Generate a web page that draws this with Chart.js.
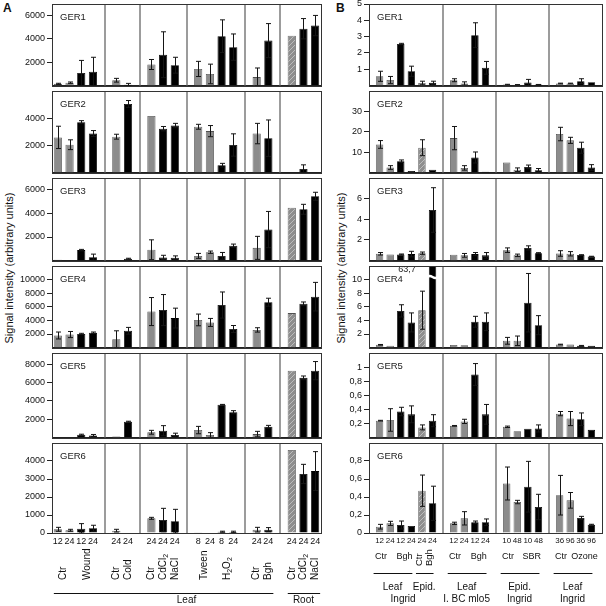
<!DOCTYPE html>
<html>
<head>
<meta charset="utf-8">
<title>GER expression</title>
<script src="https://cdn.jsdelivr.net/npm/chart.js@4.4.1/dist/chart.umd.min.js"></script>
<style>
  body { margin: 0; background: #fff; }
  #wrap { position: relative; width: 606px; height: 606px; overflow: hidden; font-family: "Liberation Sans", Arial, sans-serif; color: #111; }
  #wrap canvas { position: absolute; }
  .panel { position: absolute; font-weight: bold; font-size: 12px; }
  .ytitle { position: absolute; font-size: 11px; white-space: nowrap; transform: translate(-50%, -50%) rotate(-90deg); }
</style>
</head>
<body>
<div id="wrap">
  <div class="panel" style="left:3px;top:1px">A</div>
  <div class="panel" style="left:336px;top:1px">B</div>
  <div class="ytitle" style="left:9px;top:268px">Signal intensity (arbitrary units)</div>
  <div class="ytitle" style="left:341px;top:268px">Signal intensity (arbitrary units)</div>
</div>
<script>
const FONT = '"Liberation Sans", Arial, sans-serif';
const gerNames = ['GER1', 'GER2', 'GER3', 'GER4', 'GER5', 'GER6'];

// ---- panel A: hours per bar, '' marks the gap between treatment blocks
const labelsA = ['12','24','12','24','', '24','24','', '24','24','24','', '8','24','8','24','', '24','24','', '24','24','24'];
// c = control (grey), t = treatment (black), h = hatched control
const kindsA = ['c','c','t','t',null, 'c','t',null, 'c','t','t',null, 'c','c','t','t',null, 'c','t',null, 'h','t','t'];
const ticksA = [[2000,4000,6000], [2000,4000], [2000,4000,6000], [2000,4000,6000,8000,10000], [2000,4000,6000,8000], [0,1000,2000,3000,4000]];
const maxA = [7000, 6000, 7000, 12000, 9200, 5000];

const ger1A = [150,250,1080,1190,null, 460,80,null, 1810,2650,1750,null, 1430,1000,4240,3300,null, 730,3860,null, 4270,4880,5150];
const ger1Aerr = [50,60,1080,1240,null, 160,110,null, 430,1965,680,null, 650,840,1400,1130,null, 780,1460,null, 0,870,870];
const ger2A = [2590,2050,3710,2870,null, 2640,5050,null, 4160,3230,3460,null, 3370,3050,546,2030,null, 2870,2530,null, 0,270,0];
const ger2Aerr = [820,360,110,220,null, 180,250,null, 0,160,160,null, 180,410,134,820,null, 750,1340,null, 0,300,0];
const ger3A = [80,0,890,290,null, 40,160,null, 920,260,240,null, 400,710,400,1265,null, 1080,2630,null, 4480,4350,5450];
const ger3Aerr = [0,0,60,260,null, 0,40,null, 840,190,160,null, 210,100,290,135,null, 975,1535,null, 0,420,340];
const ger4A = [1780,1920,2010,2190,null, 1230,2470,null, 5300,5520,4340,null, 4070,3700,6260,2740,null, 2600,6670,null, 5070,6440,7490];
const ger4Aerr = [510,450,90,100,null, 1240,500,null, 2060,2280,1460,null, 860,590,1920,510,null, 320,590,null, 0,270,2100];
const ger5A = [20,20,310,230,null, 130,1730,null, 580,750,280,null, 820,280,3570,2760,null, 380,1190,null, 7280,6500,7280];
const ger5Aerr = [0,0,60,110,null, 0,50,null, 210,550,200,null, 400,260,40,170,null, 300,140,null, 0,200,990];
const ger6A = [205,150,240,260,null, 130,0,null, 815,720,650,null, 20,0,70,60,null, 185,185,null, 4610,3280,3440];
const ger6Aerr = [110,55,280,170,null, 75,0,null, 55,650,665,null, 0,0,30,40,null, 130,115,null, 0,535,1080];

// rotated treatment names under panel A: [text, first bar, last bar]
const rotA = [['Ctr',0,1], ['Wound',2,3], ['Ctr',5], ['Cold',6], ['Ctr',8], ['CdCl_2',9], ['NaCl',10],
              ['Tween',12,13], ['H_2O_2',14,15], ['Ctr',17], ['Bgh',18], ['Ctr',20], ['CdCl_2',21], ['NaCl',22]];
// tissue brackets: [text, first bar, last bar, text anchor]
const tissueA = [['Leaf',0,18,11], ['Root',20,22,21]];

// ---- panel B
const labelsB = ['', '12','24','12','24','24','24','', '12','24','12','24','', '10','48','10','48','', '36','96','36','96',''];
const kindsB = [null, 'c','c','t','t','h','t',null, 'c','c','t','t',null, 'c','c','t','t',null, 'c','c','t','t',null];
const ticksB = [[1,2,3,4,5], [10,20,30], [2,4,6], [2,4,6,8,10], [0.2,0.4,0.6,0.8,1], [0,0.2,0.4,0.6,0.8]];
const maxB = [5, 40, 8, 12, 1.2, 1.0];

const ger1B = [null, 0.57,0.34,2.55,0.88,0.16,0.17,null, 0.33,0.13,3.09,1.09,null, 0.06,0.05,0.19,0.06,null, 0.13,0.13,0.27,0.21,null];
const ger1Berr = [null, 0.31,0.22,0.04,0.31,0.11,0.1,null, 0.09,0.1,0.76,0.39,null, 0.02,0.01,0.19,0.01,null, 0.02,0.02,0.15,0,null];
const ger2B = [null, 13.8,2.5,5.6,0.8,12.2,1.4,null, 16.9,2.3,7.4,0.4,null, 5.0,1.4,2.8,1.2,null, 18.9,15.8,12.2,2.5,null];
const ger2Berr = [null, 1.9,0.9,0.6,0,3.9,0,null, 5.7,1.1,2.7,0,null, 0,0.9,0.9,0.8,null, 3.3,1.5,2.7,1.4,null];
const ger3B = [null, 0.66,0.6,0.6,0.63,0.72,4.9,null, 0.57,0.51,0.63,0.51,null, 1.01,0.51,1.23,0.72,null, 0.69,0.66,0.54,0.39,null];
const ger3Berr = [null, 0.12,0,0.04,0.27,0.11,2.16,null, 0,0.18,0.15,0.27,null, 0.22,0.12,0.2,0.05,null, 0.27,0.21,0.03,0.03,null];
const ger4B = [null, 0.41,0.27,5.4,3.7,5.5,63.7,null, 0.4,0.35,3.8,3.8,null, 1.0,1.0,6.6,3.3,null, 0.45,0.45,0.27,0.27,null];
const ger4Berr = [null, 0.05,0,0.9,1.4,2.8,0,null, 0,0,0.8,1.3,null, 0.5,0.7,4.3,1.4,null, 0.05,0,0.05,0,null];
const ger5B = [null, 0.24,0.25,0.37,0.33,0.145,0.24,null, 0.167,0.23,0.895,0.33,null, 0.153,0.09,0.126,0.13,null, 0.34,0.27,0.26,0.11,null];
const ger5Berr = [null, 0.005,0.16,0.06,0.12,0.035,0.085,null, 0.005,0.03,0.155,0.14,null, 0.01,0,0,0.05,null, 0.03,0.1,0.09,0,null];
const ger6B = [null, 0.07,0.107,0.089,0.078,0.47,0.33,null, 0.107,0.163,0.119,0.119,null, 0.55,0.344,0.514,0.289,null, 0.42,0.363,0.167,0.092,null];
const ger6Berr = [null, 0.026,0.023,0.044,0,0.174,0.19,null, 0.013,0.074,0.014,0.037,null, 0.183,0.019,0.282,0.141,null, 0.22,0.087,0.018,0.005,null];

// broken bar in panel B, GER4
const breakB = { row: 3, index: 6, label: '63,7' };

const flatB = [['Ctr',1,2], ['Bgh',3,4], ['Ctr',8,9], ['Bgh',10,11], ['Ctr',13,14], ['SBR',15,16], ['Ctr',18,19], ['Ozone',20,21]];
const rotB = [['Ctr',5], ['Bgh',6]];
const bracketB = [[1,4], [5,6], [8,11], [13,16], [18,21]];
const tissueB = [['Leaf',1,4], ['Epid.',5,6], ['Leaf',8,11], ['Epid.',13,16], ['Leaf',18,21]];
const sourceB = [['Ingrid',1,6], ['I. BC mlo5',8,11], ['Ingrid',13,16], ['Ingrid',18,21]];

// ---- layout
const rowTops = [4, 91, 178, 266, 353, 443];
const rowBottoms = [91, 178, 266, 353, 443, 533];

const hatch = (function () {
  const pc = document.createElement('canvas');
  pc.width = 5; pc.height = 5;
  const g = pc.getContext('2d');
  g.fillStyle = '#8e8e8e'; g.fillRect(0, 0, 5, 5);
  g.strokeStyle = '#bdbdbd'; g.lineWidth = 1;
  g.beginPath(); g.moveTo(-1, 6); g.lineTo(6, -1); g.stroke();
  return g.createPattern(pc, 'repeat');
})();

function fmt(v) { return String(v).replace('.', ','); }

function subText(ctx, txt, x, y, size, align) {
  const parts = txt.split(/_(\d)/);
  const widths = parts.map((s, i) => {
    ctx.font = (i % 2 ? size * 0.7 : size) + 'px ' + FONT;
    return ctx.measureText(s).width;
  });
  const total = widths.reduce((s, w) => s + w, 0);
  let cx = align === 'center' ? x - total / 2 : x;
  ctx.textAlign = 'left';
  parts.forEach((s, i) => {
    ctx.font = (i % 2 ? size * 0.7 : size) + 'px ' + FONT;
    ctx.fillText(s, cx, y + (i % 2 ? size * 0.3 : 0));
    cx += widths[i];
  });
}

function annotA(ctx, xs, Y) {
  const px = i => xs.getPixelForValue(i);
  ctx.fillStyle = '#111'; ctx.strokeStyle = '#111'; ctx.lineWidth = 1;
  ctx.textBaseline = 'middle';
  rotA.forEach(([t, a, b = a]) => {
    ctx.save();
    ctx.translate((px(a) + px(b)) / 2, Y(580));
    ctx.rotate(-Math.PI / 2);
    subText(ctx, t, 0, 0, 10, 'left');
    ctx.restore();
  });
  tissueA.forEach(([t, a, b, c]) => {
    ctx.beginPath(); ctx.moveTo(px(a) - 4, Y(593) + 0.5); ctx.lineTo(px(b) + 5, Y(593) + 0.5); ctx.stroke();
    subText(ctx, t, px(c), Y(600.5), 10, 'center');
  });
}

function annotB(ctx, xs, Y) {
  const px = i => xs.getPixelForValue(i) - 3;
  ctx.fillStyle = '#111'; ctx.strokeStyle = '#111'; ctx.lineWidth = 1;
  ctx.textBaseline = 'middle';
  flatB.forEach(([t, a, b], k) => subText(ctx, t, (px(a) + px(b)) / 2 + (k % 2 ? 1.5 : -1), Y(557), 9, 'center'));
  rotB.forEach(([t, a]) => {
    ctx.save();
    ctx.translate(px(a), Y(566));
    ctx.rotate(-Math.PI / 2);
    subText(ctx, t, 0, 0, 9.5, 'left');
    ctx.restore();
  });
  bracketB.forEach(([a, b]) => {
    ctx.beginPath(); ctx.moveTo(px(a) - 3, Y(573) + 0.5); ctx.lineTo(px(b) + 4, Y(573) + 0.5); ctx.stroke();
  });
  tissueB.forEach(([t, a, b]) => subText(ctx, t, (px(a) + px(b)) / 2, Y(587), 10, 'center'));
  sourceB.forEach(([t, a, b]) => subText(ctx, t, (px(a) + px(b)) / 2, Y(599.5), 10, 'center'));
}

const panels = [
  { labels: labelsA, kinds: kindsA, ticks: ticksA, max: maxA,
    vals: [ger1A, ger2A, ger3A, ger4A, ger5A, ger6A],
    errs: [ger1Aerr, ger2Aerr, ger3Aerr, ger4Aerr, ger5Aerr, ger6Aerr],
    canvasLeft: 14, plotLeft: 52, plotRight: 321, offset: true, barPct: 0.7, xFont: 9, annot: annotA, brk: null },
  { labels: labelsB, kinds: kindsB, ticks: ticksB, max: maxB,
    vals: [ger1B, ger2B, ger3B, ger4B, ger5B, ger6B],
    errs: [ger1Berr, ger2Berr, ger3Berr, ger4Berr, ger5Berr, ger6Berr],
    canvasLeft: 346, plotLeft: 369, plotRight: 602, offset: false, barPct: 0.7, xFont: 8, annot: annotB, brk: breakB }
];

function makeRow(p, r) {
  const last = r === 5;
  const padTop = 8, xH = last ? 14 : 0;
  const padBot = last ? 606 - rowBottoms[r] - xH : 2;
  const left = p.canvasLeft, w = p.plotRight + 3 - left;
  const top = rowTops[r] - padTop;
  const h = rowBottoms[r] - rowTops[r] + padTop + padBot + xH;
  const cv = document.createElement('canvas');
  cv.width = w; cv.height = h;
  cv.style.left = left + 'px'; cv.style.top = top + 'px';
  cv.style.width = w + 'px'; cv.style.height = h + 'px';
  document.getElementById('wrap').appendChild(cv);

  const vals = p.vals[r], errs = p.errs[r];
  const Y = yPage => yPage - top;

  const decor = {
    id: 'decor',
    beforeDatasetsDraw(chart) {
      const { ctx, chartArea: a } = chart, xs = chart.scales.x;
      ctx.save();
      ctx.strokeStyle = '#7b7b7b'; ctx.lineWidth = 1.5;
      p.labels.forEach((l, i) => {
        if (l !== '' || i === 0 || i === p.labels.length - 1) return;
        const x = Math.round(xs.getPixelForValue(i));
        ctx.beginPath(); ctx.moveTo(x, a.top); ctx.lineTo(x, a.bottom); ctx.stroke();
      });
      ctx.restore();
    },
    afterDatasetsDraw(chart) {
      const { ctx, chartArea: a } = chart, ys = chart.scales.y;
      const meta = chart.getDatasetMeta(0);
      ctx.save();
      ctx.beginPath(); ctx.rect(a.left, a.top, a.width, a.height); ctx.clip();
      ctx.strokeStyle = '#151515'; ctx.lineWidth = 1;
      meta.data.forEach((el, i) => {
        const v = vals[i], e = errs[i];
        if (v == null || !e) return;
        const x = Math.round(el.x) + 0.5;
        const y1 = ys.getPixelForValue(v + e), y2 = ys.getPixelForValue(Math.max(0, v - e));
        ctx.beginPath();
        ctx.moveTo(x, y1); ctx.lineTo(x, y2);
        ctx.moveTo(x - 2.5, y1); ctx.lineTo(x + 2.5, y1);
        ctx.moveTo(x - 2.5, y2); ctx.lineTo(x + 2.5, y2);
        ctx.stroke();
      });
      ctx.restore();
      if (p.brk && p.brk.row === r) {
        const el = meta.data[p.brk.index];
        const x0 = el.x - el.width / 2 - 1, x1 = el.x + el.width / 2 + 1, yb = a.top + 11;
        ctx.save();
        ctx.strokeStyle = '#fff'; ctx.lineWidth = 2.2;
        ctx.beginPath(); ctx.moveTo(x0, yb);
        ctx.bezierCurveTo(x0 + (x1 - x0) / 3, yb - 4, x0 + 2 * (x1 - x0) / 3, yb + 4, x1, yb);
        ctx.stroke();
        ctx.fillStyle = '#222'; ctx.font = '9px ' + FONT;
        ctx.textAlign = 'right'; ctx.textBaseline = 'middle';
        ctx.fillText(p.brk.label, el.x - el.width / 2 - 13, a.top + 4);
        ctx.restore();
      }
    },
    afterDraw(chart) {
      const { ctx, chartArea: a } = chart;
      ctx.save();
      ctx.strokeStyle = '#333'; ctx.lineWidth = 1;
      ctx.strokeRect(Math.round(a.left) + 0.5, Math.round(a.top) + 0.5, Math.round(a.width), Math.round(a.height));
      ctx.fillStyle = '#222'; ctx.font = '9.5px ' + FONT;
      ctx.textAlign = 'left'; ctx.textBaseline = 'middle';
      ctx.fillText(gerNames[r], a.left + 8, a.top + 13);
      if (last) p.annot(ctx, chart.scales.x, Y);
      ctx.restore();
    }
  };

  new Chart(cv, {
    type: 'bar',
    data: {
      labels: p.labels,
      datasets: [{
        data: vals,
        backgroundColor: p.kinds.map(k => k === 't' ? '#000' : k === 'h' ? hatch : '#8c8c8c'),
        borderColor: p.kinds.map(k => k === 't' ? '#000' : '#505050'),
        borderWidth: 0.8,
        categoryPercentage: 1,
        barPercentage: p.barPct
      }]
    },
    options: {
      responsive: false,
      animation: false,
      layout: { padding: { top: padTop, bottom: padBot, left: 0, right: 3 } },
      plugins: { legend: { display: false }, tooltip: { enabled: false } },
      scales: {
        x: {
          type: 'category',
          offset: p.offset,
          grid: { display: false, drawTicks: false },
          border: { display: true, color: '#222', width: 1 },
          ticks: { display: last, autoSkip: false, maxRotation: 0, minRotation: 0, padding: 3,
                   color: '#111', font: { size: p.xFont, family: FONT } },
          afterFit: s => { s.height = xH; }
        },
        y: {
          min: 0, max: p.max[r],
          grid: { drawOnChartArea: false, drawTicks: true, tickLength: 5, color: '#222' },
          border: { display: true, color: '#222', width: 1 },
          ticks: { padding: 2, color: '#111', font: { size: 9, family: FONT }, callback: v => fmt(v) },
          afterBuildTicks: s => { s.ticks = p.ticks[r].map(v => ({ value: v })); },
          afterFit: s => { s.width = p.plotLeft - p.canvasLeft; }
        }
      }
    },
    plugins: [decor]
  });
}

panels.forEach(p => { for (let r = 0; r < 6; r++) makeRow(p, r); });
</script>
</body>
</html>
